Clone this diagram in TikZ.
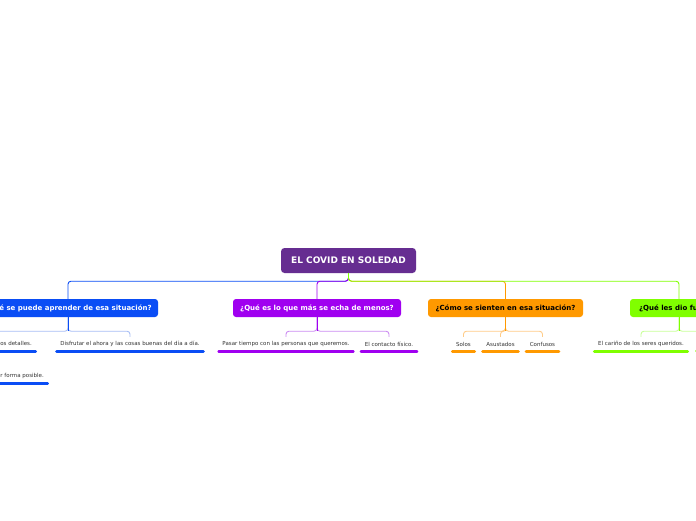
\documentclass[tikz,border=0pt]{standalone}
\usepackage{fontspec}
\setmainfont{DejaVu Sans}
\definecolor{rootc}{HTML}{662D91}
\definecolor{bluec}{HTML}{0A4DF5}
\definecolor{bluel}{HTML}{A8BEF5}
\definecolor{purc}{HTML}{A000F0}
\definecolor{purl}{HTML}{CC8CF2}
\definecolor{orc}{HTML}{FF9900}
\definecolor{orl}{HTML}{FFCC88}
\definecolor{grc}{HTML}{80FF00}
\definecolor{grl}{HTML}{C8FF99}
\definecolor{textgray}{HTML}{333333}
\begin{document}
\begin{tikzpicture}[x=1pt,y=-1pt,
  topic/.style={rounded corners=3pt, minimum height=18pt, inner xsep=0pt, inner ysep=0pt,
    font=\bfseries\fontsize{7}{8}\selectfont, text=white},
  rootbox/.style={rounded corners=3.5pt, minimum height=25pt, minimum width=135pt, inner sep=0pt,
    font=\bfseries\fontsize{9}{10}\selectfont, text=white, fill=rootc},
  leaf/.style={minimum height=14pt, inner xsep=5pt, inner ysep=0pt,
    font=\fontsize{5.5}{6.5}\selectfont, text=textgray},
  conn/.style={line width=0.9pt, rounded corners=3pt},
  uline/.style={line width=2.6pt, line cap=round},
]
\clip (0,0) rectangle (696,520);
\fill[white] (0,0) rectangle (696,520);

% nodes
\node[rootbox] (root) at (348.5,260.5) {EL COVID EN SOLEDAD};
\node[topic, fill=bluec, minimum width=180pt] (blue) at (68,308) {¿Qué se puede aprender de esa situación?};
\node[topic, fill=purc, minimum width=168pt] (pur) at (317,308) {¿Qué es lo que más se echa de menos?};
\node[topic, fill=orc, minimum width=155pt, text=black] (ora) at (505.5,308) {¿Cómo se sienten en esa situación?};
\node[topic, fill=grc, minimum width=98pt, text=black] (gre) at (679,308) {¿Qué les dio fuerza?};

\node[leaf, anchor=east] (b1) at (37,344) {Valorar los pequeños detalles.};
\node[leaf] (b2) at (130,344) {Disfrutar el ahora y las cosas buenas del día a día.};
\node[leaf, anchor=east] (b3) at (49,376) {Vivir de la mejor forma posible.};
\node[leaf] (p1) at (286,344) {Pasar tiempo con las personas que queremos.};
\node[leaf] (p2) at (389,344) {El contacto físico.};
\node[leaf] (o1) at (463.5,344) {Solos};
\node[leaf] (o2) at (500.5,344) {Asustados};
\node[leaf] (o3) at (542.5,344) {Confusos};
\node[leaf] (g1) at (641,344) {El cariño de los seres queridos.};
\coordinate (g2) at (740,337);

% main connectors
\draw[conn, draw=bluec] (root.south) -- ++(0,8) -| (blue.north);
\draw[conn, draw=purc] (root.south) -- ++(0,8) -| (pur.north);
\draw[conn, draw=orc] (root.south) -- ++(0,8) -| (ora.north);
\draw[conn, draw=grc] (root.south) -- ++(0,8) -| (gre.north);

% sub connectors
\draw[conn, draw=bluel] (blue.south) -- ++(0,14) -| (b1.north);
\draw[conn, draw=bluel] (blue.south) -- ++(0,14) -| (b2.north);
\draw[conn, draw=purl] (pur.south) -- ++(0,14) -| (p1.north);
\draw[conn, draw=purl] (pur.south) -- ++(0,14) -| (p2.north);
\draw[conn, draw=orl] (ora.south) -- ++(0,14) -| (o1.north);
\draw[conn, draw=orl] (ora.south) -- ++(0,14) -| (o2.north);
\draw[conn, draw=orl] (ora.south) -- ++(0,14) -| (o3.north);
\draw[conn, draw=grl] (gre.south) -- ++(0,14) -| (g1.north);
\draw[conn, draw=grl] (gre.south) -- ++(0,14) -| (g2);
\draw[conn, draw=purc] (pur.south) -- ++(0,14);
\draw[conn, draw=orc] (ora.south) -- ++(0,14);
\draw[conn, draw=grc] (gre.south) -- ++(0,14);
\draw[conn, draw=bluec] (blue.south) -- ++(0,14);

% underlines
\foreach \n/\c in {b1/bluec,b2/bluec,b3/bluec,p1/purc,p2/purc,o1/orc,o2/orc,o3/orc,g1/grc}{
  \draw[uline, draw=\c] ([xshift=1.3pt]\n.south west) -- ([xshift=-1.3pt]\n.south east);
}
\draw[uline, draw=grc] (696.3,351) -- (720,351);
\end{tikzpicture}
\end{document}
